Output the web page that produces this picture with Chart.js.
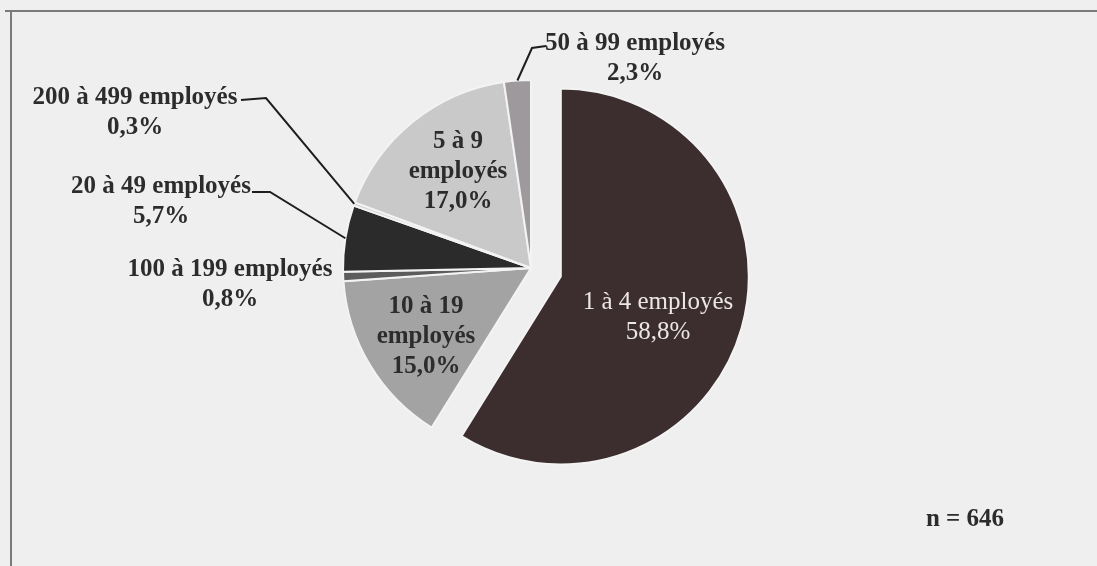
<!DOCTYPE html>
<html lang="fr">
<head>
<meta charset="utf-8">
<title>Répartition des entreprises selon le nombre d'employés</title>
<script src="https://cdn.jsdelivr.net/npm/chart.js@4.4.1/dist/chart.umd.min.js"></script>
<style>
  html, body { margin: 0; padding: 0; background: #efefef; }
  #wrap { position: relative; width: 1097px; height: 566px; }
</style>
</head>
<body>
<div id="wrap"><canvas id="chart" width="1097" height="566"></canvas></div>
<script>
// Company size classes and their share of the sample (%)
const categories = [
  '1 à 4 employés',
  '10 à 19 employés',
  '100 à 199 employés',
  '20 à 49 employés',
  '200 à 499 employés',
  '5 à 9 employés',
  '50 à 99 employés'
];
const shares = [58.8, 15.0, 0.8, 5.7, 0.3, 17.0, 2.3];
const sampleSize = 646;

const sliceColors = ['#3c2d2e', '#a3a3a3', '#5c5c5c', '#2b2b2b', '#d6d6d6', '#c9c9c9', '#9d999d'];

const FONT = 'bold 25px "Liberation Serif", "Times New Roman", serif';
const FONT_LIGHT = '25px "Liberation Serif", "Times New Roman", serif';
const LINE_H = 30;
const INK = '#2c2c2c';
const EXPLODE = 31;   // pull-out distance of the largest slice, px

// Labels placed outside the pie, with optional leader polyline ending on the slice rim
const calloutLayout = [
  { i: 4, x: 135, y: 98,  leader: [[241, 100], [266, 98]] },
  { i: 3, x: 161, y: 187, leader: [[252, 192], [270, 192]] },
  { i: 2, x: 230, y: 270, leader: null },
  { i: 6, x: 635, y: 44,  leader: [[546, 46], [532, 48]] }
];
// Labels written inside their slice
const insideLayout = [
  { i: 5, x: 458, y: 142, split: true,  color: INK,       font: FONT },
  { i: 1, x: 426, y: 307, split: true,  color: INK,       font: FONT },
  { i: 0, x: 658, y: 302, split: false, color: '#ece7e7', font: FONT_LIGHT }
];

const pct = v => v.toFixed(1).replace('.', ',') + '%';

const framePlugin = {
  id: 'frame',
  beforeDraw(chart) {
    const ctx = chart.ctx;
    ctx.save();
    ctx.fillStyle = '#efefef';
    ctx.fillRect(0, 0, chart.width, chart.height);
    ctx.strokeStyle = '#7a7a7a';
    ctx.lineWidth = 2;
    ctx.beginPath();
    ctx.moveTo(5, 11);
    ctx.lineTo(chart.width, 11);
    ctx.moveTo(11, 10);
    ctx.lineTo(11, chart.height);
    ctx.stroke();
    ctx.restore();
  }
};

const explodePlugin = {
  id: 'explode',
  afterDatasetsUpdate(chart) {
    const el = chart.getDatasetMeta(0).data[0];
    const mid = (el.startAngle + el.endAngle) / 2;
    el.x += Math.cos(mid) * EXPLODE;
    el.y += Math.sin(mid) * EXPLODE;
  }
};

const labelPlugin = {
  id: 'sliceLabels',
  afterDatasetsDraw(chart) {
    const ctx = chart.ctx;
    const arcs = chart.getDatasetMeta(0).data;
    ctx.save();
    ctx.textAlign = 'center';
    ctx.textBaseline = 'middle';

    calloutLayout.forEach(c => {
      ctx.font = FONT;
      ctx.fillStyle = INK;
      ctx.fillText(categories[c.i], c.x, c.y);
      ctx.fillText(pct(shares[c.i]), c.x, c.y + LINE_H);
      if (c.leader) {
        const a = arcs[c.i];
        const mid = (a.startAngle + a.endAngle) / 2;
        const ex = a.x + Math.cos(mid) * a.outerRadius;
        const ey = a.y + Math.sin(mid) * a.outerRadius;
        ctx.strokeStyle = '#1e1e1e';
        ctx.lineWidth = 2;
        ctx.beginPath();
        ctx.moveTo(c.leader[0][0], c.leader[0][1]);
        for (let k = 1; k < c.leader.length; k++) ctx.lineTo(c.leader[k][0], c.leader[k][1]);
        ctx.lineTo(ex, ey);
        ctx.stroke();
      }
    });

    insideLayout.forEach(c => {
      ctx.font = c.font;
      ctx.fillStyle = c.color;
      const name = categories[c.i];
      const lines = c.split
        ? [name.replace(' employés', ''), 'employés', pct(shares[c.i])]
        : [name, pct(shares[c.i])];
      lines.forEach((t, k) => ctx.fillText(t, c.x, c.y + k * LINE_H));
    });

    ctx.font = FONT;
    ctx.fillStyle = INK;
    ctx.fillText('n = ' + sampleSize, 965, 520);
    ctx.restore();
  }
};

new Chart(document.getElementById('chart'), {
  type: 'pie',
  data: {
    labels: categories,
    datasets: [{
      data: shares,
      backgroundColor: sliceColors,
      borderColor: '#f3f3f3',
      borderWidth: 2
    }]
  },
  options: {
    responsive: false,
    animation: false,
    radius: 188,
    layout: { padding: { left: 0, top: 0, right: 35, bottom: 30 } },
    plugins: {
      legend: { display: false },
      tooltip: { enabled: false }
    }
  },
  plugins: [framePlugin, explodePlugin, labelPlugin]
});
</script>
</body>
</html>
